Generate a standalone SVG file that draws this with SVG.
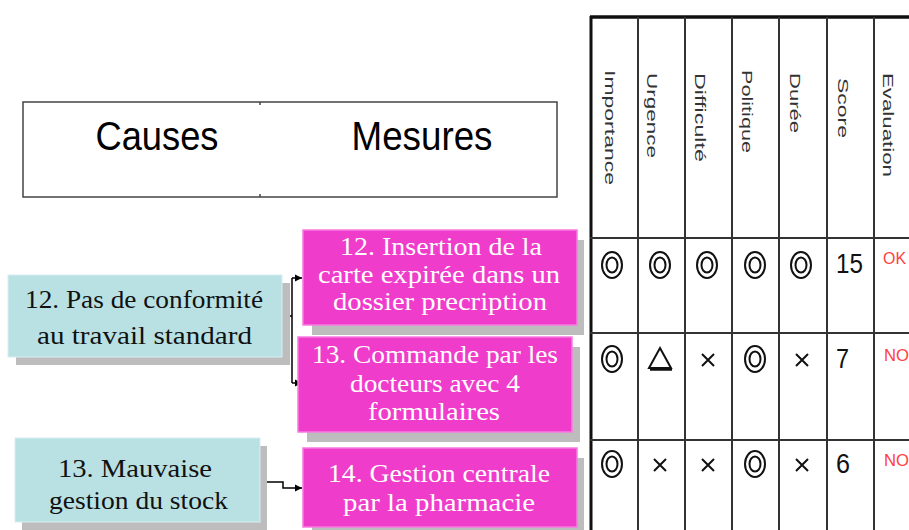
<svg xmlns="http://www.w3.org/2000/svg" width="909" height="530" viewBox="0 0 909 530">
<defs>
<style>
.hdr{font-family:"Liberation Sans",Arial,sans-serif;font-size:41px;fill:#000}
.col{font-family:"Liberation Sans",Arial,sans-serif;font-size:15px;fill:#333}
.cause{font-family:"Liberation Serif","Times New Roman",serif;font-size:26px;fill:#111}
.meas{font-family:"Liberation Serif","Times New Roman",serif;font-size:25px;fill:#fff}
.num{font-family:"Liberation Sans",Arial,sans-serif;font-size:28px;fill:#111}
.ev{font-family:"Liberation Sans",Arial,sans-serif;font-size:17px;fill:#ff4040}
.cbox{fill:#b9e1e4;stroke:#d6eef0;stroke-width:1}
.mbox{fill:#ef3ccb;stroke:#f77be0;stroke-width:1.5}
.shadow{fill:#bdbdbd}
.grid{stroke:#333;stroke-width:2;fill:none}
.sym{stroke:#111;stroke-width:2;fill:none}
.conn{stroke:#000;stroke-width:1.5;fill:none}
</style>
<marker id="arr" markerWidth="8" markerHeight="8" refX="7" refY="4" orient="auto" markerUnits="userSpaceOnUse">
<path d="M0,0.5 L7,4 L0,7.5 z" fill="#000"/>
</marker>
<g id="dcirc"><ellipse cx="0" cy="0" rx="10" ry="13" class="sym"/><ellipse cx="0" cy="0" rx="5.5" ry="7.5" class="sym"/></g>
<g id="cross"><path d="M-6,-6 L6,6 M6,-6 L-6,6" class="sym" stroke-width="2"/></g>
</defs>
<rect width="909" height="530" fill="#fff"/>

<g id="header">
<rect x="23" y="102" width="534" height="95" fill="#fff" stroke="#444" stroke-width="1.5"/>
<line x1="260" y1="102" x2="260" y2="105" stroke="#444" stroke-width="1.5"/>
<line x1="260" y1="194" x2="260" y2="197" stroke="#444" stroke-width="1.5"/>
<text class="hdr" x="157" y="150" text-anchor="middle" textLength="123" lengthAdjust="spacingAndGlyphs">Causes</text>
<text class="hdr" x="422" y="150" text-anchor="middle" textLength="141" lengthAdjust="spacingAndGlyphs">Mesures</text>
</g>

<g id="table">
<line x1="590" y1="17" x2="909" y2="17" stroke="#111" stroke-width="3.5"/>
<line x1="591" y1="16" x2="591" y2="530" stroke="#111" stroke-width="3"/>
<line x1="638" y1="17" x2="638" y2="530" class="grid"/>
<line x1="685" y1="17" x2="685" y2="530" class="grid"/>
<line x1="732" y1="17" x2="732" y2="530" class="grid"/>
<line x1="779" y1="17" x2="779" y2="530" class="grid" stroke="#666"/>
<line x1="827" y1="17" x2="827" y2="530" class="grid"/>
<line x1="874" y1="17" x2="874" y2="530" class="grid" stroke-width="3"/>
<line x1="590" y1="238" x2="909" y2="238" class="grid"/>
<line x1="590" y1="333" x2="909" y2="333" class="grid"/>
<line x1="590" y1="440" x2="909" y2="440" class="grid" stroke="#555"/>
<text class="col" transform="translate(605,70) rotate(90)" textLength="115" lengthAdjust="spacingAndGlyphs">Importance</text>
<text class="col" transform="translate(647,73) rotate(90)" textLength="85" lengthAdjust="spacingAndGlyphs">Urgence</text>
<text class="col" transform="translate(695,73) rotate(90)" textLength="89" lengthAdjust="spacingAndGlyphs">Difficulté</text>
<text class="col" transform="translate(742,70) rotate(90)" textLength="83" lengthAdjust="spacingAndGlyphs">Politique</text>
<text class="col" transform="translate(790,73) rotate(90)" textLength="60" lengthAdjust="spacingAndGlyphs">Durée</text>
<text class="col" transform="translate(838,78) rotate(90)" textLength="60" lengthAdjust="spacingAndGlyphs">Score</text>
<text class="col" transform="translate(883,73) rotate(90)" textLength="104" lengthAdjust="spacingAndGlyphs">Evaluation</text>

<use href="#dcirc" x="612" y="265"/>
<use href="#dcirc" x="660" y="265"/>
<use href="#dcirc" x="707" y="265"/>
<use href="#dcirc" x="755" y="265"/>
<use href="#dcirc" x="801" y="265"/>
<text class="num" x="836" y="273" textLength="27" lengthAdjust="spacingAndGlyphs">15</text>
<text class="ev" x="883" y="264" textLength="23" lengthAdjust="spacingAndGlyphs">OK</text>

<use href="#dcirc" x="612" y="359"/>
<path d="M660,348 L671,368 L649,368 Z" class="sym"/>
<line x1="650" y1="369.5" x2="672" y2="369.5" stroke="#111" stroke-width="2.5"/>
<use href="#cross" x="708" y="360"/>
<use href="#dcirc" x="755" y="359"/>
<use href="#cross" x="802" y="360"/>
<text class="num" x="836" y="368" textLength="13" lengthAdjust="spacingAndGlyphs">7</text>
<text class="ev" x="884" y="361" textLength="25" lengthAdjust="spacingAndGlyphs">NO</text>

<use href="#dcirc" x="612" y="464"/>
<use href="#cross" x="660" y="465"/>
<use href="#cross" x="708" y="465"/>
<use href="#dcirc" x="755" y="464"/>
<use href="#cross" x="802" y="465"/>
<text class="num" x="836" y="473" textLength="14" lengthAdjust="spacingAndGlyphs">6</text>
<text class="ev" x="884" y="466" textLength="25" lengthAdjust="spacingAndGlyphs">NO</text>
</g>

<g id="connectors">
<path d="M282,316 H292 M292,278 V383" class="conn"/>
<path d="M292,278 H302" class="conn" marker-end="url(#arr)"/>
<path d="M292,383 H302" class="conn" marker-end="url(#arr)"/>
<path d="M260,482 H283 V488 H302" class="conn" marker-end="url(#arr)"/>
</g>

<g id="cause12">
<rect x="16" y="283" width="274" height="82" class="shadow"/>
<rect x="8" y="275" width="274" height="82" class="cbox"/>
<text class="cause" x="144" y="308" text-anchor="middle" textLength="238" lengthAdjust="spacingAndGlyphs">12. Pas de conformité</text>
<text class="cause" x="144.5" y="344" text-anchor="middle" textLength="215" lengthAdjust="spacingAndGlyphs">au travail standard</text>
</g>

<g id="cause13">
<rect x="22" y="446" width="245" height="84" class="shadow"/>
<rect x="15" y="438" width="245" height="84" class="cbox"/>
<text class="cause" x="135" y="477" text-anchor="middle" textLength="154" lengthAdjust="spacingAndGlyphs">13. Mauvaise</text>
<text class="cause" x="138.5" y="509" text-anchor="middle" textLength="179" lengthAdjust="spacingAndGlyphs">gestion du stock</text>
</g>

<g id="mesure12">
<rect x="312" y="240" width="272" height="95" class="shadow"/>
<rect x="303" y="230" width="274" height="95" class="mbox"/>
<text class="meas" x="441" y="255" text-anchor="middle" textLength="202" lengthAdjust="spacingAndGlyphs">12. Insertion de la</text>
<text class="meas" x="439" y="283" text-anchor="middle" textLength="242" lengthAdjust="spacingAndGlyphs">carte expirée dans un</text>
<text class="meas" x="440" y="310" text-anchor="middle" textLength="214" lengthAdjust="spacingAndGlyphs">dossier precription</text>
</g>

<g id="mesure13">
<rect x="307" y="347" width="273" height="95" class="shadow"/>
<rect x="298" y="337" width="274" height="95" class="mbox"/>
<text class="meas" x="435" y="363" text-anchor="middle" textLength="246" lengthAdjust="spacingAndGlyphs">13. Commande par les</text>
<text class="meas" x="435" y="392" text-anchor="middle" textLength="170" lengthAdjust="spacingAndGlyphs">docteurs avec 4</text>
<text class="meas" x="434" y="420" text-anchor="middle" textLength="132" lengthAdjust="spacingAndGlyphs">formulaires</text>
</g>

<g id="mesure14">
<rect x="312" y="458" width="272" height="79" class="shadow"/>
<rect x="303" y="448" width="274" height="79" class="mbox"/>
<text class="meas" x="439" y="482" text-anchor="middle" textLength="222" lengthAdjust="spacingAndGlyphs">14. Gestion centrale</text>
<text class="meas" x="439" y="511" text-anchor="middle" textLength="192" lengthAdjust="spacingAndGlyphs">par la pharmacie</text>
</g>
</svg>
